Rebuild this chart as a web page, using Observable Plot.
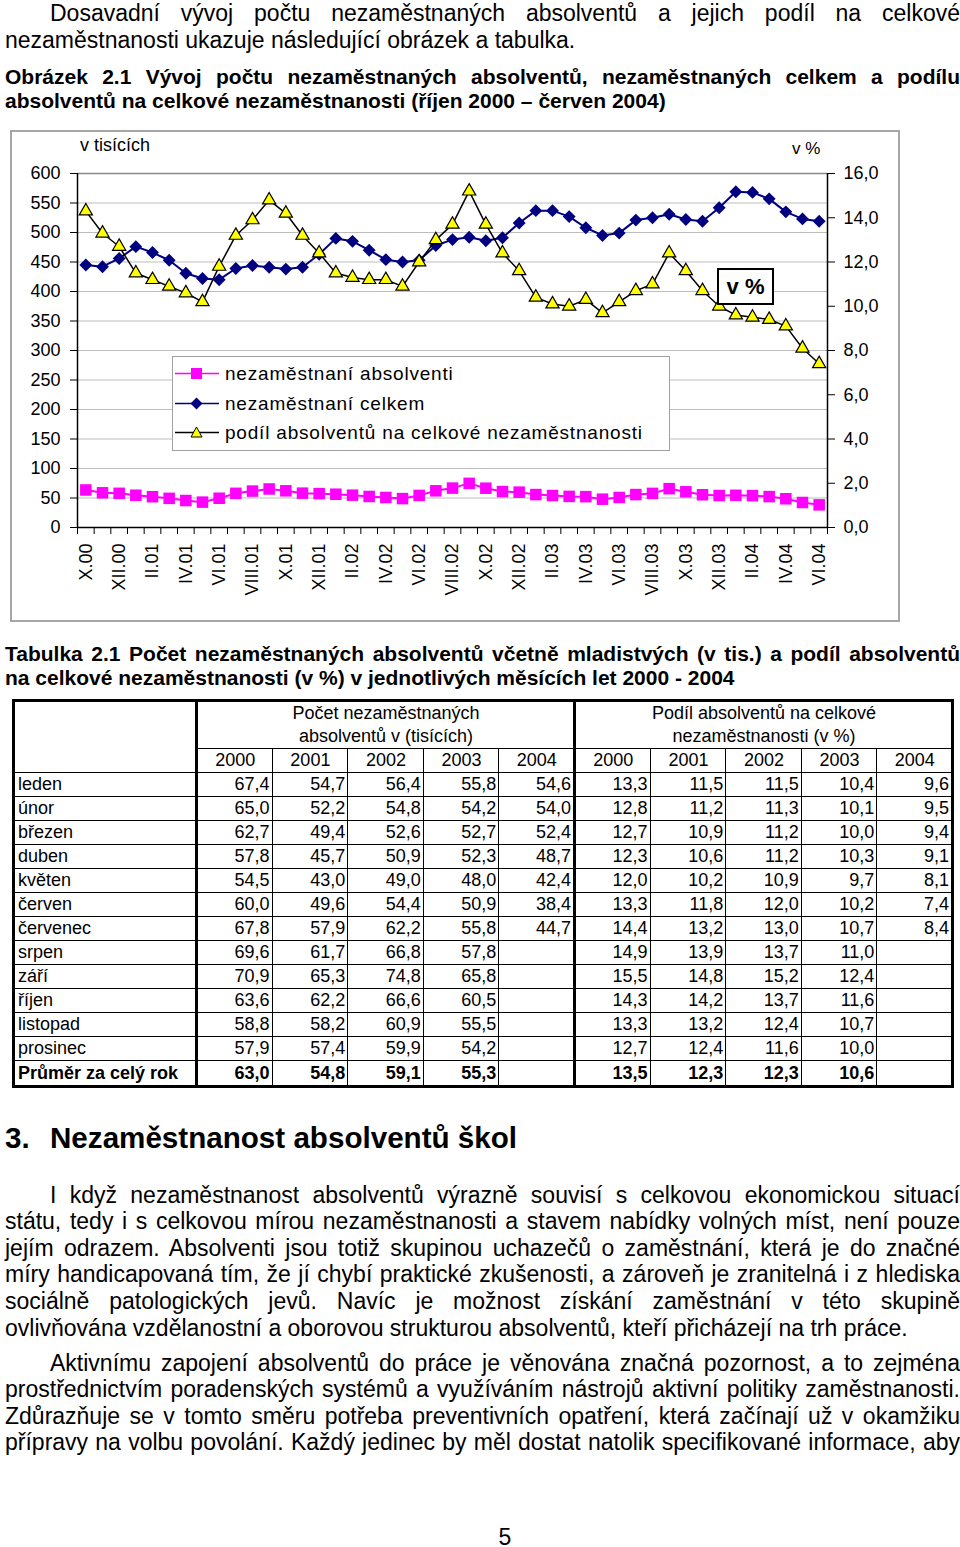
<!DOCTYPE html>
<html>
<head>
<meta charset="utf-8">
<script src="https://cdn.jsdelivr.net/npm/d3@7"></script>
<script src="https://cdn.jsdelivr.net/npm/@observablehq/plot@0.6"></script>
<style>
html,body{margin:0;padding:0;background:#fff;}
body{width:960px;height:1547px;position:relative;overflow:hidden;font-family:"Liberation Sans",Arial,sans-serif;color:#000;}
.blk{position:absolute;left:5px;width:955px;}
.ln{white-space:nowrap;text-align:left;box-sizing:border-box;width:955px;}
.j{text-align:justify;text-align-last:justify;}
.ind{padding-left:45px;}
.body23{font-size:23px;line-height:27px;}
.bold21{font-size:21px;font-weight:bold;line-height:24px;}
.para{font-size:23px;line-height:26.6px;}
#chartbox{position:absolute;left:10px;top:130px;width:890px;height:492px;border:2px solid #a6a6a6;box-sizing:border-box;}
#chartbox svg{position:absolute;left:0;top:0;}
.ov{position:absolute;white-space:nowrap;z-index:2;}
#legend{position:absolute;left:160px;top:224px;width:498px;height:95px;border:1px solid #a0a0a0;background:#fff;box-sizing:border-box;z-index:2;font-size:19px;letter-spacing:0.8px;}
#legend .row{position:absolute;left:0;width:490px;height:30px;line-height:30px;white-space:nowrap;}
#legend svg{position:absolute;left:2px;top:7px;}
#legend span{position:absolute;left:52px;top:0;white-space:nowrap;}
#vbox{position:absolute;left:705px;top:136px;width:57px;height:37px;border:2px solid #000;box-sizing:border-box;background:#fff;font-weight:bold;font-size:22px;line-height:33px;text-align:center;z-index:2;}
#tbl{position:absolute;left:12px;top:699px;width:939px;border-collapse:collapse;table-layout:fixed;font-size:18px;border:3px solid #000;}
#tbl td{border:1.5px solid #000;padding:0 2px 0 3px;height:23px;line-height:21px;white-space:nowrap;overflow:hidden;}
#tbl td.n{text-align:right;}
#tbl td.c{text-align:center;}
#tbl td.lab{border-right:3px solid #000;}
#tbl td.gsep{border-left:3px solid #000;}
#tbl tr.avg td{font-weight:bold;height:24px;}
#pg{position:absolute;left:0;width:960px;top:1524px;text-align:center;font-size:23px;line-height:27px;padding-left:50px;box-sizing:border-box;}
</style>
</head>
<body>

<div class="blk body23" style="top:0px">
  <div class="ln j ind">Dosavadní vývoj počtu nezaměstnaných absolventů a jejich podíl na celkové</div>
  <div class="ln">nezaměstnanosti ukazuje následující obrázek a tabulka.</div>
</div>

<div class="blk bold21" style="top:65px">
  <div class="ln j">Obrázek 2.1 Vývoj počtu nezaměstnaných absolventů, nezaměstnaných celkem a podílu</div>
  <div class="ln">absolventů na celkové nezaměstnanosti (říjen 2000 – červen 2004)</div>
</div>

<div id="chartbox">
  <div class="ov" style="left:68px;top:2px;font-size:18px;line-height:22px;">v tisících</div>
  <div class="ov" style="left:780px;top:6px;font-size:17px;line-height:22px;">v %</div>
  <div id="legend"></div>
  <div id="vbox">v %</div>
</div>

<div class="blk bold21" style="top:642px">
  <div class="ln j">Tabulka 2.1 Počet nezaměstnaných absolventů včetně mladistvých (v tis.) a podíl absolventů</div>
  <div class="ln">na celkové nezaměstnanosti (v %) v jednotlivých měsících let 2000 - 2004</div>
</div>

<table id="tbl"></table>

<div class="blk" style="top:1120px;font-size:29.6px;font-weight:bold;line-height:36px;">
  <span style="position:absolute;left:0">3.</span><span style="position:absolute;left:45px">Nezaměstnanost absolventů škol</span>
</div>

<div class="blk para" style="top:1181.7px">
  <div class="ln j ind">I když nezaměstnanost absolventů výrazně souvisí s celkovou ekonomickou situací</div>
  <div class="ln j">státu, tedy i s celkovou mírou nezaměstnanosti a stavem nabídky volných míst, není pouze</div>
  <div class="ln j">jejím odrazem. Absolventi jsou totiž skupinou uchazečů o zaměstnání, která je do značné</div>
  <div class="ln j">míry handicapovaná tím, že jí chybí praktické zkušenosti, a zároveň je zranitelná i z hlediska</div>
  <div class="ln j">sociálně patologických jevů. Navíc je možnost získání zaměstnání v této skupině</div>
  <div class="ln">ovlivňována vzdělanostní a oborovou strukturou absolventů, kteří přicházejí na trh práce.</div>
</div>

<div class="blk para" style="top:1349.7px">
  <div class="ln j ind">Aktivnímu zapojení absolventů do práce je věnována značná pozornost, a to zejména</div>
  <div class="ln j">prostřednictvím poradenských systémů a využíváním nástrojů aktivní politiky zaměstnanosti.</div>
  <div class="ln j">Zdůrazňuje se v tomto směru potřeba preventivních opatření, která začínají už v okamžiku</div>
  <div class="ln j">přípravy na volbu povolání. Každý jedinec by měl dostat natolik specifikované informace, aby</div>
</div>

<div id="pg">5</div>

<script>
// ---------- chart data (October 2000 – June 2004, monthly) ----------
const months = [
  "X.00","XI.00","XII.00",
  "I.01","II.01","III.01","IV.01","V.01","VI.01","VII.01","VIII.01","IX.01","X.01","XI.01","XII.01",
  "I.02","II.02","III.02","IV.02","V.02","VI.02","VII.02","VIII.02","IX.02","X.02","XI.02","XII.02",
  "I.03","II.03","III.03","IV.03","V.03","VI.03","VII.03","VIII.03","IX.03","X.03","XI.03","XII.03",
  "I.04","II.04","III.04","IV.04","V.04","VI.04"
];
// unemployed graduates (thousands)
const absolventi = [
  63.6, 58.8, 57.9,
  54.7, 52.2, 49.4, 45.7, 43.0, 49.6, 57.9, 61.7, 65.3, 62.2, 58.2, 57.4,
  56.4, 54.8, 52.6, 50.9, 49.0, 54.4, 62.2, 66.8, 74.8, 66.6, 60.9, 59.9,
  55.8, 54.2, 52.7, 52.3, 48.0, 50.9, 55.8, 57.8, 65.8, 60.5, 55.5, 54.2,
  54.6, 54.0, 52.4, 48.7, 42.4, 38.4
];
// unemployed total (thousands)
const celkem = [
  445, 442, 456,
  476, 466, 453, 431, 422, 420, 439, 444, 441, 438, 441, 463,
  490, 485, 470, 454, 450, 453, 478, 488, 492, 486, 491, 516,
  537, 537, 527, 508, 495, 499, 521, 525, 531, 522, 519, 542,
  569, 568, 557, 535, 523, 519
];
// share of graduates in total unemployment (%)
const podil = [
  14.3, 13.3, 12.7,
  11.5, 11.2, 10.9, 10.6, 10.2, 11.8, 13.2, 13.9, 14.8, 14.2, 13.2, 12.4,
  11.5, 11.3, 11.2, 11.2, 10.9, 12.0, 13.0, 13.7, 15.2, 13.7, 12.4, 11.6,
  10.4, 10.1, 10.0, 10.3, 9.7, 10.2, 10.7, 11.0, 12.4, 11.6, 10.7, 10.0,
  9.6, 9.5, 9.4, 9.1, 8.1, 7.4
];
const leftTicks = [0, 50, 100, 150, 200, 250, 300, 350, 400, 450, 500, 550, 600];
const rightTicks = [0, 2, 4, 6, 8, 10, 12, 14, 16];
const seriesNames = ["nezaměstnaní absolventi", "nezaměstnaní celkem", "podíl absolventů na celkové nezaměstnanosti"];

// ---------- table data ----------
const tableYears = ["2000", "2001", "2002", "2003", "2004"];
const tableMonths = ["leden","únor","březen","duben","květen","červen","červenec","srpen","září","říjen","listopad","prosinec"];
const absTable = [
  [67.4, 54.7, 56.4, 55.8, 54.6],
  [65.0, 52.2, 54.8, 54.2, 54.0],
  [62.7, 49.4, 52.6, 52.7, 52.4],
  [57.8, 45.7, 50.9, 52.3, 48.7],
  [54.5, 43.0, 49.0, 48.0, 42.4],
  [60.0, 49.6, 54.4, 50.9, 38.4],
  [67.8, 57.9, 62.2, 55.8, 44.7],
  [69.6, 61.7, 66.8, 57.8, null],
  [70.9, 65.3, 74.8, 65.8, null],
  [63.6, 62.2, 66.6, 60.5, null],
  [58.8, 58.2, 60.9, 55.5, null],
  [57.9, 57.4, 59.9, 54.2, null]
];
const pctTable = [
  [13.3, 11.5, 11.5, 10.4, 9.6],
  [12.8, 11.2, 11.3, 10.1, 9.5],
  [12.7, 10.9, 11.2, 10.0, 9.4],
  [12.3, 10.6, 11.2, 10.3, 9.1],
  [12.0, 10.2, 10.9, 9.7, 8.1],
  [13.3, 11.8, 12.0, 10.2, 7.4],
  [14.4, 13.2, 13.0, 10.7, 8.4],
  [14.9, 13.9, 13.7, 11.0, null],
  [15.5, 14.8, 15.2, 12.4, null],
  [14.3, 14.2, 13.7, 11.6, null],
  [13.3, 13.2, 12.4, 10.7, null],
  [12.7, 12.4, 11.6, 10.0, null]
];
const avgLabel = "Průměr za celý rok";
const avgAbs = [63.0, 54.8, 59.1, 55.3, null];
const avgPct = [13.5, 12.3, 12.3, 10.6, null];

// ---------- chart ----------
const idx = d3.range(months.length);
const K = 600 / 16; // right axis (%) mapped onto left axis (thousands)
const fmt1 = v => v.toFixed(1).replace(".", ",");
const MAG = "#ff00ff", NAVY = "#000080", YEL = "#ffff00";

const chart = Plot.plot({
  width: 886,
  height: 488,
  marginLeft: 65,
  marginRight: 71,
  marginTop: 41,
  marginBottom: 93,
  style: {fontFamily: "'Liberation Sans', Arial, sans-serif", fontSize: "18px", color: "black", background: "transparent", overflow: "visible"},
  x: {domain: [-0.5, months.length - 0.5]},
  y: {domain: [0, 600]},
  marks: [
    Plot.gridY({ticks: leftTicks.filter(t => t > 0 && t < 600), stroke: "#bdbdbd", strokeOpacity: 1, strokeWidth: 1.2}),
    Plot.ruleY([600], {stroke: "#8a8a8a", strokeWidth: 1.5}),
    Plot.ruleY([0], {stroke: "black", strokeWidth: 1.5}),
    Plot.ruleX([-0.5, months.length - 0.5], {stroke: "black", strokeWidth: 1.5}),
    Plot.axisY({anchor: "left", ticks: leftTicks, tickSize: 7, tickPadding: 10, tickFormat: d => String(d), label: null, fontSize: 18}),
    Plot.axisY({anchor: "right", ticks: rightTicks.map(t => t * K), tickSize: 7, tickPadding: 9, tickFormat: d => fmt1(d / K), label: null, fontSize: 18}),
    Plot.axisX({anchor: "bottom", ticks: d3.range(-0.5, months.length, 1), tickSize: 7, tickFormat: () => "", label: null}),
    Plot.text(idx.filter(i => i % 2 === 0), {x: d => d, text: d => months[d], frameAnchor: "bottom", rotate: -90, textAnchor: "end", lineAnchor: "middle", dy: 16, fontSize: 18}),
    Plot.line(idx, {x: d => d, y: d => absolventi[d], stroke: MAG, strokeWidth: 2}),
    Plot.dot(idx, {x: d => d, y: d => absolventi[d], symbol: "square", r: 6.5, fill: MAG, stroke: "none"}),
    Plot.line(idx, {x: d => d, y: d => celkem[d], stroke: NAVY, strokeWidth: 2}),
    Plot.dot(idx, {x: d => d, y: d => celkem[d], symbol: "diamond2", r: 5.8, fill: NAVY, stroke: "none"}),
    Plot.line(idx, {x: d => d, y: d => podil[d] * K, stroke: "black", strokeWidth: 1.5}),
    Plot.dot(idx, {x: d => d, y: d => podil[d] * K, symbol: "triangle", r: 4.9, fill: YEL, stroke: "black", strokeWidth: 1.2})
  ]
});
document.getElementById("chartbox").prepend(chart);

// legend
const legend = document.getElementById("legend");
const legendSymbols = [
  `<rect x="16" y="2" width="11" height="11" fill="${MAG}"/>`,
  `<path d="M21.5,1.5 L27.5,7.5 L21.5,13.5 L15.5,7.5 Z" fill="${NAVY}"/>`,
  `<path d="M21.5,2 L27,12 L16,12 Z" fill="${YEL}" stroke="black" stroke-width="1"/>`
];
const legendStroke = [MAG, NAVY, "black"];
const legendTops = [2, 32, 61];
seriesNames.forEach((name, i) => {
  const row = document.createElement("div");
  row.className = "row";
  row.style.top = legendTops[i] + "px";
  row.innerHTML = `<svg width="46" height="16"><line x1="0" y1="7.5" x2="44" y2="7.5" stroke="${legendStroke[i]}" stroke-width="1.6"/>${legendSymbols[i]}</svg><span>${name}</span>`;
  legend.appendChild(row);
});

// ---------- table ----------
const tbl = document.getElementById("tbl");
const cell = v => v == null ? "" : fmt1(v);
let html = `<colgroup><col style="width:183px">${'<col style="width:75.6px">'.repeat(10)}</colgroup>`;
html += `<tr style="height:47px"><td class="lab" rowspan="2"></td>
  <td class="c" colspan="5" style="line-height:23px;white-space:normal">Počet nezaměstnaných<br>absolventů v (tisících)</td>
  <td class="c gsep" colspan="5" style="line-height:23px;white-space:normal">Podíl absolventů na celkové<br>nezaměstnanosti (v %)</td></tr>`;
html += `<tr>${tableYears.map(y => `<td class="c">${y}</td>`).join("")}${tableYears.map((y, k) => `<td class="c${k === 0 ? " gsep" : ""}">${y}</td>`).join("")}</tr>`;
tableMonths.forEach((m, r) => {
  html += `<tr><td class="lab">${m}</td>${absTable[r].map(v => `<td class="n">${cell(v)}</td>`).join("")}${pctTable[r].map((v, k) => `<td class="n${k === 0 ? " gsep" : ""}">${cell(v)}</td>`).join("")}</tr>`;
});
html += `<tr class="avg"><td class="lab">${avgLabel}</td>${avgAbs.map(v => `<td class="n">${cell(v)}</td>`).join("")}${avgPct.map((v, k) => `<td class="n${k === 0 ? " gsep" : ""}">${cell(v)}</td>`).join("")}</tr>`;
tbl.innerHTML = html;

// fit any over-long justified line
document.querySelectorAll(".ln").forEach(el => {
  let ws = 0;
  while (el.scrollWidth > el.clientWidth + 0.5 && ws > -6) {
    ws -= 0.5;
    el.style.wordSpacing = ws + "px";
  }
});
</script>
</body>
</html>
